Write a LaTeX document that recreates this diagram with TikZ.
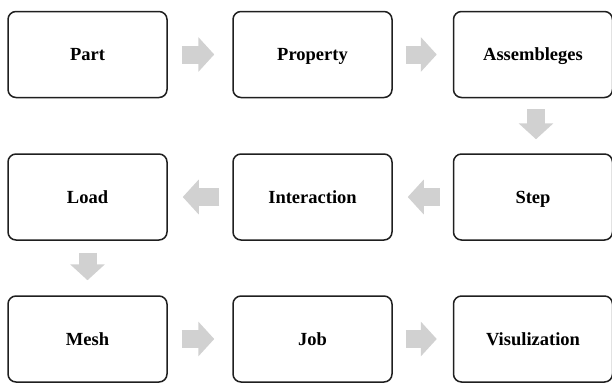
\documentclass[tikz,border=0pt]{standalone}
\usepackage{fontspec}
\setmainfont{Liberation Serif}
\usetikzlibrary{arrows.meta}
\tikzset{
  stagebox/.style={draw=black!88, line width=1.5pt, rounded corners=8pt, fill=white,
    minimum width=159pt, minimum height=86pt, inner sep=0pt,
    text height=14pt, text depth=2pt,
    font=\fontsize{18.5}{20}\selectfont\bfseries},
  flowarrow/.style={draw=black!18, line width=18pt,
    -{Triangle[length=16pt,width=34pt]}}
}
\begin{document}
\begin{tikzpicture}[x=1pt,y=-1pt]
\useasboundingbox (0,0) rectangle (612,383);
% row 1
\node[stagebox] (part) at (87.5,54.5) {Part};
\node[stagebox] (prop) at (312.5,54.5) {Property};
\node[stagebox] (asm)  at (533,54.5) {Assembleges};
% row 2
\node[stagebox] (load) at (87.5,197) {Load};
\node[stagebox] (inter) at (312.5,197) {Interaction};
\node[stagebox] (step) at (533,197) {Step};
% row 3
\node[stagebox] (mesh) at (87.5,339) {Mesh};
\node[stagebox] (job) at (312.5,339) {Job};
\node[stagebox] (vis) at (533,339) {Visulization};
% arrows
\draw[flowarrow] ([xshift=14pt]part.east) -- ([xshift=-18pt]prop.west);
\draw[flowarrow] ([xshift=13pt]prop.east) -- ([xshift=-16pt]asm.west);
\draw[flowarrow] ([xshift=3pt,yshift=-11pt]asm.south) -- ([xshift=3pt,yshift=14pt]step.north);
\draw[flowarrow] ([xshift=-13pt]step.west) -- ([xshift=15pt]inter.east);
\draw[flowarrow] ([xshift=-13pt]inter.west) -- ([xshift=15pt]load.east);
\draw[flowarrow] ([yshift=-12pt]load.south) -- ([yshift=15pt]mesh.north);
\draw[flowarrow] ([xshift=14pt]mesh.east) -- ([xshift=-18pt]job.west);
\draw[flowarrow] ([xshift=13pt]job.east) -- ([xshift=-16pt]vis.west);
\end{tikzpicture}
\end{document}
